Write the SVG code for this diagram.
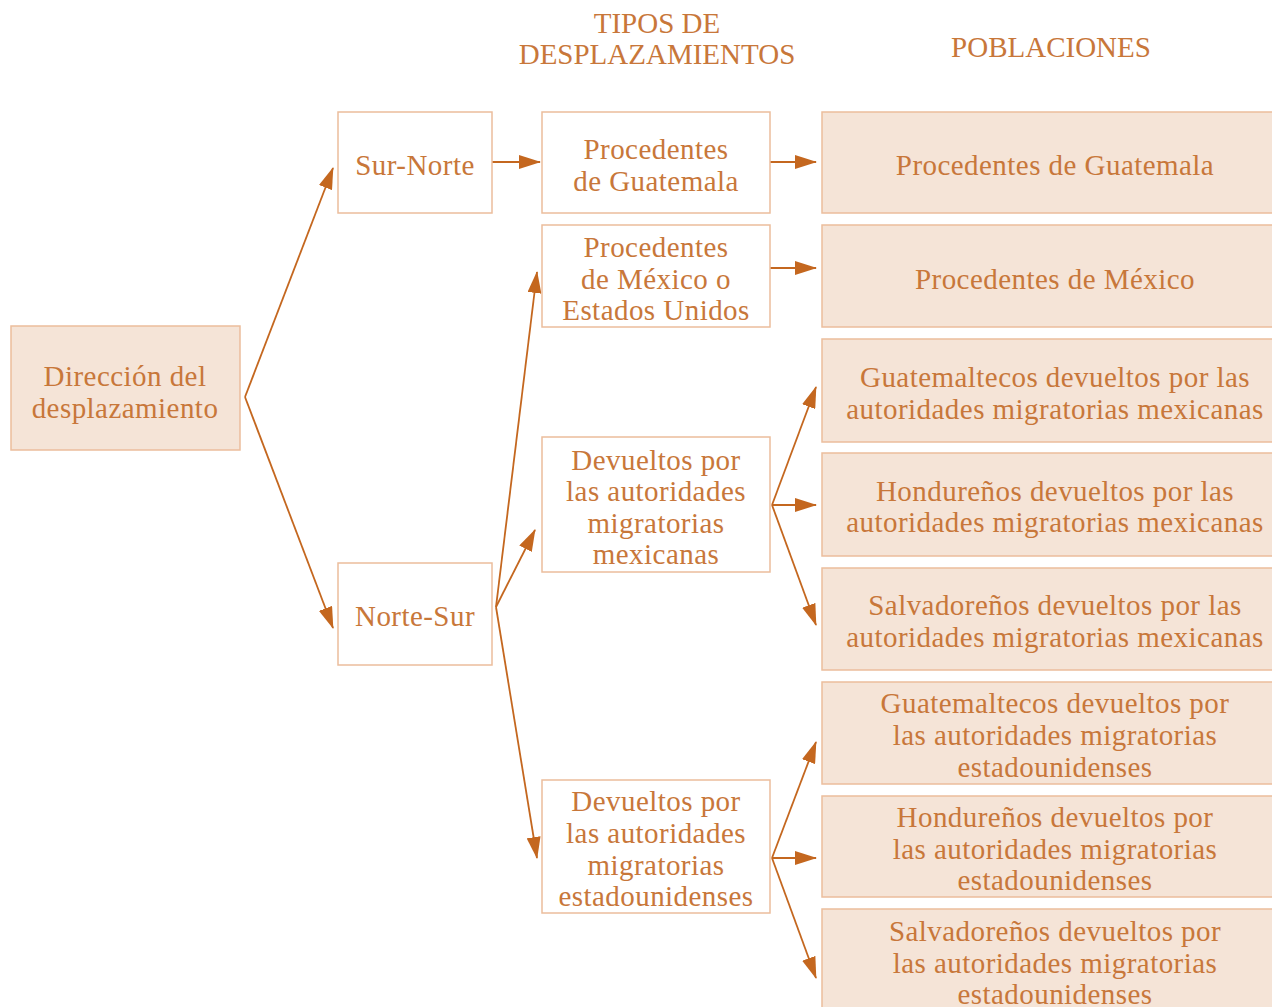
<svg xmlns="http://www.w3.org/2000/svg" width="1272" height="1007" viewBox="0 0 1272 1007">
<style>
.box{fill:#ffffff;stroke:#ebbd9c;stroke-width:1.5}
.fill{fill:#f5e4d7;stroke:#ebbd9c;stroke-width:1.5}
text{font-family:"Liberation Serif","DejaVu Serif",serif;font-size:29px;letter-spacing:0.45px;fill:#c8773a;text-anchor:middle}
.hd{font-size:29px;letter-spacing:0}
.ln{stroke:#c4671f;stroke-width:1.8;fill:none;marker-end:url(#ah)}
</style>
<defs>
<marker id="ah" viewBox="0 0 22 14" refX="21" refY="7" markerWidth="22" markerHeight="14" markerUnits="userSpaceOnUse" orient="auto">
<path d="M0,0 L22,7 L0,14 Z" fill="#c4671f"/>
</marker>
</defs>
<g id="headers">
<text class="hd" x="657" y="33">TIPOS DE</text>
<text class="hd" x="657" y="64">DESPLAZAMIENTOS</text>
<text class="hd" x="1051" y="57">POBLACIONES</text>
</g>
<g id="connectors">
<line class="ln" x1="245" y1="397" x2="333" y2="168"/>
<line class="ln" x1="245" y1="397" x2="333" y2="628"/>
<line class="ln" x1="492" y1="162" x2="540" y2="162"/>
<line class="ln" x1="770" y1="162" x2="816" y2="162"/>
<line class="ln" x1="770" y1="268" x2="816" y2="268"/>
<line class="ln" x1="496" y1="607" x2="537" y2="272"/>
<line class="ln" x1="496" y1="607" x2="535" y2="530"/>
<line class="ln" x1="496" y1="607" x2="537" y2="858"/>
<line class="ln" x1="772" y1="505" x2="816" y2="387"/>
<line class="ln" x1="772" y1="505" x2="816" y2="505"/>
<line class="ln" x1="772" y1="505" x2="816" y2="625"/>
<line class="ln" x1="772" y1="858" x2="816" y2="742"/>
<line class="ln" x1="772" y1="858" x2="816" y2="858"/>
<line class="ln" x1="772" y1="858" x2="816" y2="978"/>
</g>
<g id="direccion"><rect class="fill" x="11" y="326" width="229" height="124"/><text x="125" y="386">Dirección del</text><text x="125" y="418">desplazamiento</text></g>
<g id="sur-norte"><rect class="box" x="338" y="112" width="154" height="101"/><text x="415" y="175">Sur-Norte</text></g>
<g id="norte-sur"><rect class="box" x="338" y="563" width="154" height="102"/><text x="415" y="626">Norte-Sur</text></g>
<g id="tipo-guatemala"><rect class="box" x="542" y="112" width="228" height="101"/><text x="656" y="159">Procedentes</text><text x="656" y="191">de Guatemala</text></g>
<g id="tipo-mexico"><rect class="box" x="542" y="225" width="228" height="102"/><text x="656" y="257">Procedentes</text><text x="656" y="289">de México o</text><text x="656" y="320">Estados Unidos</text></g>
<g id="tipo-dev-mex"><rect class="box" x="542" y="437" width="228" height="135"/><text x="656" y="470">Devueltos por</text><text x="656" y="501">las autoridades</text><text x="656" y="533">migratorias</text><text x="656" y="564">mexicanas</text></g>
<g id="tipo-dev-eu"><rect class="box" x="542" y="780" width="228" height="133"/><text x="656" y="811">Devueltos por</text><text x="656" y="843">las autoridades</text><text x="656" y="875">migratorias</text><text x="656" y="906">estadounidenses</text></g>
<g id="pob-guatemala"><rect class="fill" x="822" y="112" width="460" height="101"/><text x="1055" y="175">Procedentes de Guatemala</text></g>
<g id="pob-mexico"><rect class="fill" x="822" y="225" width="460" height="102"/><text x="1055" y="289">Procedentes de México</text></g>
<g id="pob-gua-mex"><rect class="fill" x="822" y="339" width="460" height="103"/><text x="1055" y="387">Guatemaltecos devueltos por las</text><text x="1055" y="419">autoridades migratorias mexicanas</text></g>
<g id="pob-hon-mex"><rect class="fill" x="822" y="453" width="460" height="103"/><text x="1055" y="501">Hondureños devueltos por las</text><text x="1055" y="532">autoridades migratorias mexicanas</text></g>
<g id="pob-sal-mex"><rect class="fill" x="822" y="568" width="460" height="102"/><text x="1055" y="615">Salvadoreños devueltos por las</text><text x="1055" y="647">autoridades migratorias mexicanas</text></g>
<g id="pob-gua-eu"><rect class="fill" x="822" y="682" width="460" height="102"/><text x="1055" y="713">Guatemaltecos devueltos por</text><text x="1055" y="745">las autoridades migratorias</text><text x="1055" y="777">estadounidenses</text></g>
<g id="pob-hon-eu"><rect class="fill" x="822" y="796" width="460" height="101"/><text x="1055" y="827">Hondureños devueltos por</text><text x="1055" y="859">las autoridades migratorias</text><text x="1055" y="890">estadounidenses</text></g>
<g id="pob-sal-eu"><rect class="fill" x="822" y="909" width="460" height="110"/><text x="1055" y="941">Salvadoreños devueltos por</text><text x="1055" y="973">las autoridades migratorias</text><text x="1055" y="1004">estadounidenses</text></g>
</svg>
